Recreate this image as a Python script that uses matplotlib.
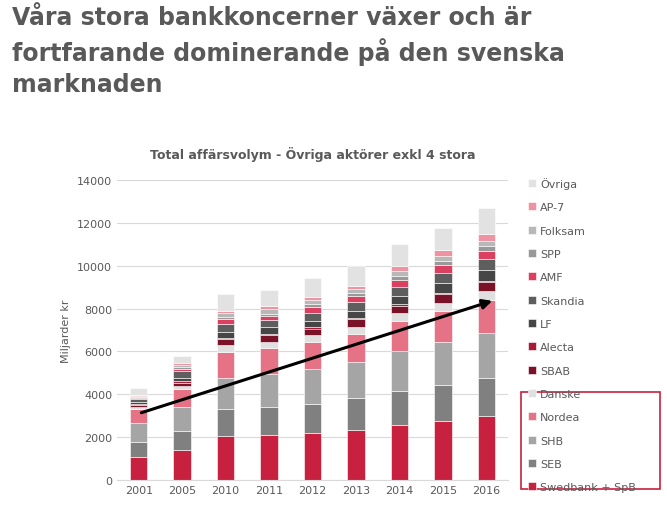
import matplotlib
matplotlib.use("Agg")
import matplotlib.pyplot as plt
from matplotlib.patches import Rectangle
import numpy as np

years = ["2001", "2005", "2010", "2011", "2012", "2013", "2014", "2015", "2016"]
series_names = ["Swedbank + SpB", "SEB", "SHB", "Nordea", "Danske", "SBAB", "Alecta",
                "LF", "Skandia", "AMF", "SPP", "Folksam", "AP-7", "Övriga"]
swedbank = [1060, 1390, 2060, 2090, 2180, 2340, 2590, 2760, 2980]
seb      = [720, 900, 1240, 1310, 1390, 1490, 1580, 1690, 1770]
shb      = [870, 1110, 1480, 1540, 1630, 1700, 1840, 1980, 2100]
nordea   = [650, 840, 1200, 1200, 1220, 1280, 1390, 1470, 1550]
danske   = [130, 150, 310, 320, 340, 340, 390, 360, 420]
sbab     = [70, 160, 310, 300, 310, 360, 340, 420, 400]
alecta   = [60, 80, 50, 50, 50, 40, 80, 70, 80]
lf       = [90, 150, 270, 310, 310, 350, 390, 440, 500]
skandia  = [130, 310, 350, 340, 360, 390, 400, 470, 500]
amf      = [50, 80, 240, 200, 280, 280, 350, 370, 400]
spp      = [50, 90, 110, 110, 140, 180, 180, 190, 200]
folksam  = [50, 100, 170, 200, 190, 160, 210, 220, 240]
ap7      = [60, 90, 90, 130, 120, 160, 230, 280, 320]
ovriga   = [290, 340, 810, 760, 900, 930, 1030, 1060, 1220]
arrow_start = 3100
arrow_end = 8400

data = [swedbank, seb, shb, nordea, danske, sbab, alecta, lf, skandia, amf, spp, folksam, ap7, ovriga]
colors = ["#C8203F", "#808080", "#A5A5A5", "#E57285", "#E0E0E0", "#7A1228", "#A41C38",
          "#464646", "#5E5E5E", "#DC4060", "#999999", "#B8B8B8", "#EE93A2", "#E2E2E2"]

fig = plt.figure(figsize=(6.67, 5.06), dpi=100)
W, H = 667, 506
ax = fig.add_axes([117 / W, 1 - 481 / H, (508 - 117) / W, 300 / H])
x = np.arange(len(years))
bottom = np.zeros(len(years))
handles = []
for name, vals, c in zip(series_names, data, colors):
    b = ax.bar(x, vals, bottom=bottom, width=0.4, color=c, label=name,
               edgecolor="white", linewidth=0.4)
    handles.append(b)
    bottom += np.array(vals)

ax.set_ylim(0, 14000)
ax.set_xlim(-0.5, len(years) - 0.5)
ax.set_yticks(range(0, 14001, 2000))
ax.set_xticks(x)
ax.set_xticklabels(years)
ax.tick_params(length=0, labelsize=8, colors="#595959")
ax.grid(axis="y", color="#D9D9D9", linewidth=0.8)
ax.set_axisbelow(True)
for s in ["top", "right", "left"]:
    ax.spines[s].set_visible(False)
ax.spines["bottom"].set_color("#D9D9D9")
ax.set_ylabel("Miljarder kr", fontsize=8, color="#595959")
ax.set_title("Total affärsvolym - Övriga aktörer exkl 4 stora", fontsize=9,
             fontweight="bold", color="#595959", pad=16)

ax.annotate("", xy=(x[-1] + 0.2, arrow_end), xytext=(x[0], arrow_start),
            arrowprops=dict(arrowstyle="-|>", color="black", lw=2.2, mutation_scale=14))

leg = fig.legend(handles[::-1], series_names[::-1], loc="upper left",
                 bbox_to_anchor=(518 / W, 1 - 168 / H), frameon=False,
                 fontsize=8, labelspacing=1.2, handlelength=0.7, handleheight=0.7,
                 handletextpad=0.4, labelcolor="#595959")

fig.patches.append(Rectangle((521 / W, 1 - 490 / H), 139 / W, 97 / H,
                             transform=fig.transFigure, fill=False,
                             edgecolor="#C8203F", linewidth=1.2))

fig.text(12 / W, 1 - 6 / H,
         "Våra stora bankkoncerner växer och är\nfortfarande dominerande på den svenska\nmarknaden",
         fontsize=17, fontweight="bold", color="#595959", va="top", ha="left",
         linespacing=1.35)

fig.savefig("out.png", dpi=100)
